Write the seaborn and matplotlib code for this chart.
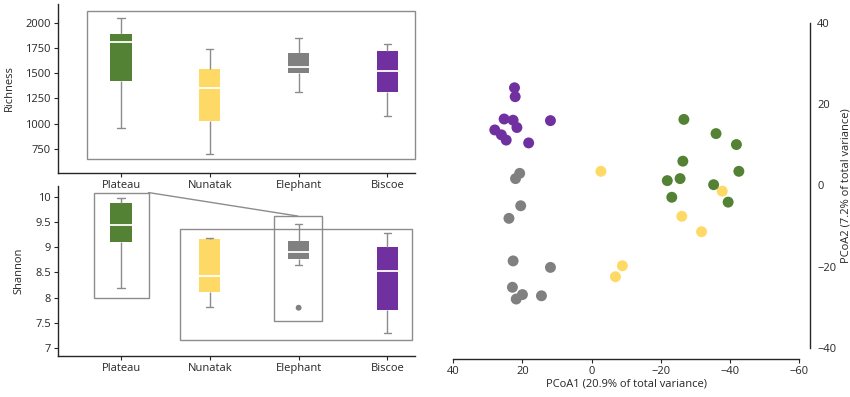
import numpy as np
import pandas as pd
from matplotlib import pyplot as plt
from matplotlib.patches import Rectangle
import seaborn as sns

sites = ['Plateau', 'Nunatak', 'Elephant', 'Biscoe']
colors = ['#548235', '#FFD966', '#808080', '#7030A0']

# five-number summaries: low whisker, Q1, median, Q3, high whisker
richness = {
    'Plateau': [961, 1426, 1805, 1888, 2043],
    'Nunatak': [704, 1030, 1350, 1545, 1743],
    'Elephant': [1311, 1505, 1565, 1697, 1852],
    'Biscoe': [1077, 1311, 1522, 1720, 1786],
}
shannon = {
    'Plateau': [8.20, 9.10, 9.44, 9.87, 9.97],
    'Nunatak': [7.81, 8.11, 8.43, 9.17, 9.19],
    'Elephant': [8.64, 8.76, 8.91, 9.13, 9.46],
    'Biscoe': [7.29, 7.75, 8.53, 9.01, 9.28],
}
shannon_outlier_site = ['Elephant']
shannon_outlier = [7.80]

# PCoA coordinates
pc1_biscoe = [22.3, 22.1, 25.3, 22.7, 21.6, 28.0, 26.1, 24.7, 18.2, 11.9]
pc2_biscoe = [24.1, 21.9, 16.4, 16.1, 14.3, 13.7, 12.5, 11.2, 10.5, 16.0]
pc1_elephant = [20.8, 22.0, 20.5, 23.9, 22.7, 11.9, 22.9, 20.0, 21.8, 14.5]
pc2_elephant = [3.0, 1.7, -5.0, -8.1, -18.6, -20.2, -25.1, -26.9, -28.0, -27.2]
pc1_nunatak = [-2.7, -37.8, -26.1, -31.8, -8.9, -6.9]
pc2_nunatak = [3.5, -1.4, -7.6, -11.4, -19.8, -22.5]
pc1_plateau = [-26.7, -36.0, -41.9, -26.4, -42.6, -21.9, -25.6, -35.3, -23.2, -39.5]
pc2_plateau = [16.3, 12.8, 10.1, 6.0, 3.5, 1.2, 1.7, 0.2, -2.9, -4.1]

sns.set_style('ticks')
plt.rcParams['font.family'] = ['Open Sans', 'DejaVu Sans']
plt.rcParams['font.size'] = 8
plt.rcParams['axes.linewidth'] = 1.0
plt.rcParams['xtick.major.size'] = 3
plt.rcParams['ytick.major.size'] = 3
plt.rcParams['xtick.major.pad'] = 2
plt.rcParams['ytick.major.pad'] = 2

palette = dict(zip(sites, colors))
box_color = '#8c8c8c'


def long_table(summary):
    rows = []
    for s in sites:
        for v in summary[s]:
            rows.append({'site': s, 'value': v})
    return pd.DataFrame(rows)


def draw_box(ax, summary):
    sns.boxplot(data=long_table(summary), x='site', y='value', hue='site', order=sites,
                palette=palette, saturation=1, whis=np.inf, width=0.24, ax=ax, legend=False,
                linecolor=box_color, linewidth=1.0,
                boxprops={'linewidth': 0},
                medianprops={'color': 'white', 'linewidth': 1.3},
                capwidths=0.08)
    ax.set_xlabel('')
    ax.patch.set_alpha(0)
    sns.despine(ax=ax)


fig = plt.figure(figsize=(8.5, 3.97), dpi=100)
ax1 = fig.add_axes([0.0682, 0.5642, 0.42, 0.4257])
ax2 = fig.add_axes([0.0682, 0.104, 0.42, 0.4275])
ax3 = fig.add_axes([0.5333, 0.1242, 0.4067, 0.8171])

# Richness
draw_box(ax1, richness)
ax1.set_xlim(-0.71, 3.31)
ax1.set_ylim(512, 2185)
ax1.set_yticks([750, 1000, 1250, 1500, 1750, 2000])
ax1.set_ylabel('Richness', labelpad=8)
ax1.add_patch(Rectangle((0.08, 0.08), 0.92, 0.88, transform=ax1.transAxes,
                        fill=False, edgecolor='#8c8c8c', linewidth=1.0, clip_on=False))

# Shannon
draw_box(ax2, shannon)
sns.scatterplot(x=shannon_outlier_site, y=shannon_outlier, ax=ax2, color='#808080',
                s=18, edgecolor='none', legend=False)
ax2.set_xlim(-0.71, 3.31)
ax2.set_ylim(6.85, 10.21)
ax2.set_yticks([7, 7.5, 8, 8.5, 9, 9.5, 10])
ax2.set_yticklabels(['7', '7.5', '8', '8.5', '9', '9.5', '10'])
ax2.set_ylabel('Shannon', labelpad=8)
ax2.set_xlabel('')
frame = dict(fill=False, edgecolor='#8c8c8c', linewidth=1.0)
ax2.add_patch(Rectangle((-0.30, 8.0), 0.61, 2.08, **frame))
ax2.add_patch(Rectangle((0.66, 7.16), 2.62, 2.20, **frame))
ax2.add_patch(Rectangle((1.72, 7.54), 0.54, 2.075, **frame))
ax2.plot([0.31, 1.99], [10.08, 9.615], color='#8c8c8c', linewidth=1.0)

# PCoA
groups = [
    (pc1_biscoe, pc2_biscoe, 'Biscoe'),
    (pc1_elephant, pc2_elephant, 'Elephant'),
    (pc1_nunatak, pc2_nunatak, 'Nunatak'),
    (pc1_plateau, pc2_plateau, 'Plateau'),
]
pts = pd.concat([pd.DataFrame({'pc1': a, 'pc2': b, 'site': s}) for a, b, s in groups])
sns.scatterplot(data=pts, x='pc1', y='pc2', hue='site', palette=palette, s=62,
                edgecolor='none', legend=False, ax=ax3)
ax3.set_xlim(40, -60)
ax3.set_ylim(-40, 40)
ax3.set_xticks([40, 20, 0, -20, -40, -60])
ax3.set_yticks([-40, -20, 0, 20, 40])
ax3.yaxis.tick_right()
ax3.yaxis.set_label_position('right')
sns.despine(ax=ax3, left=True, right=False, offset=8)
ax3.set_xlabel('PCoA1 (20.9% of total variance)', labelpad=1)
ax3.set_ylabel('PCoA2 (7.2% of total variance)', labelpad=3)

fig.savefig('out.png', dpi=100)
